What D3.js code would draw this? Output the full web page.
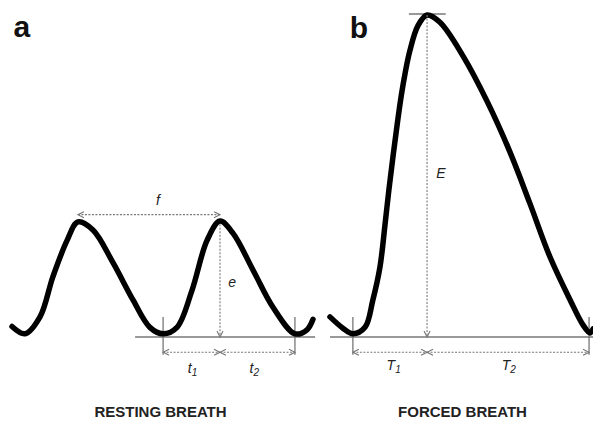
<!DOCTYPE html>
<html>
<head>
<meta charset="utf-8">
<script src="https://cdn.jsdelivr.net/npm/d3@7"></script>
<style>
  html, body { margin: 0; padding: 0; background: #fff; overflow: hidden; }
  svg { display: block; }
  text { font-family: "Liberation Sans", Arial, sans-serif; }
</style>
</head>
<body>
<script>
// resting breath trace (time units, volume units)
var restT = [0, 0.43, 0.93, 1.36, 1.83, 2.19, 2.69, 3.36, 4.02, 4.58, 5.02, 5.48, 5.98, 6.48, 6.91, 7.34, 8.01, 8.67, 9.40, 9.80, 10.0];
var restV = [0.13, 0.04, 0.25, 0.75, 1.20, 1.43, 1.33, 0.92, 0.46, 0.12, 0.04, 0.12, 0.58, 1.20, 1.44, 1.29, 0.83, 0.37, 0.04, 0.09, 0.22];
// forced breath trace
var forcT = [0, 0.49, 0.87, 1.33, 1.63, 1.90, 2.09, 2.24, 2.47, 2.74, 3.04, 3.35, 3.69, 4.18, 5.06, 5.97, 6.84, 7.60, 8.37, 9.13, 9.62, 9.89, 10.0];
var forcV = [0.25, 0.11, 0.04, 0.12, 0.46, 0.87, 1.39, 1.83, 2.43, 3.06, 3.56, 3.87, 4.00, 3.91, 3.49, 2.93, 2.30, 1.66, 0.99, 0.46, 0.15, 0.05, 0.10];

// marker times
var restPeaks = [2.19, 6.91];
var restTroughs = [5.02, 9.40];
var restPeakV = 1.44;
var forcTroughs = [0.87, 9.85];
var forcPeak = 3.69;
var forcPeakV = 4.0;

var panelLetters = ["a", "b"];
var panelTitles = ["RESTING BREATH", "FORCED BREATH"];

var W = 593, H = 421;
var svg = d3.select("body").append("svg").attr("width", W).attr("height", H);

var defs = svg.append("defs");
defs.append("marker")
  .attr("id", "arr")
  .attr("viewBox", "0 0 8 8")
  .attr("refX", 7).attr("refY", 4)
  .attr("markerWidth", 8).attr("markerHeight", 8)
  .attr("markerUnits", "userSpaceOnUse")
  .attr("orient", "auto-start-reverse")
  .append("path")
  .attr("d", "M1,1 L7,4 L1,7")
  .attr("fill", "none")
  .attr("stroke", "#777")
  .attr("stroke-width", 1.1);

var y = d3.scaleLinear().domain([0, 4]).range([337, 15]);
var xa = d3.scaleLinear().domain([0, 10]).range([12, 313]);
var xb = d3.scaleLinear().domain([0, 10]).range([330, 593]);

var gray = "#777";

function trace(x, ts, vs) {
  var pts = ts.map(function(t, i) { return [t, vs[i]]; });
  var line = d3.line()
    .x(function(d) { return x(d[0]); })
    .y(function(d) { return y(d[1]); })
    .curve(d3.curveCatmullRom.alpha(0.5));
  svg.append("path")
    .attr("d", line(pts))
    .attr("fill", "none")
    .attr("stroke", "#000")
    .attr("stroke-width", 5.5)
    .attr("stroke-linecap", "round");
}

function solid(x1, y1, x2, y2) {
  svg.append("line")
    .attr("x1", x1).attr("y1", y1).attr("x2", x2).attr("y2", y2)
    .attr("stroke", gray).attr("stroke-width", 1.3);
}

function dashed(x1, y1, x2, y2, both) {
  var l = svg.append("line")
    .attr("x1", x1).attr("y1", y1).attr("x2", x2).attr("y2", y2)
    .attr("stroke", gray).attr("stroke-width", 1.1)
    .attr("stroke-dasharray", "2,1.5")
    .attr("marker-end", "url(#arr)");
  if (both) l.attr("marker-start", "url(#arr)");
}

function label(x, yy, main, sub, size) {
  var t = svg.append("text")
    .attr("x", x).attr("y", yy)
    .attr("text-anchor", "middle")
    .attr("font-style", "italic")
    .attr("font-size", size || 14)
    .attr("fill", "#222")
    .text(main);
  if (sub) {
    t.append("tspan").attr("font-size", 10).attr("dy", 3).text(sub);
  }
}

// ---- panel a ----
solid(xa(4.09), y(0), xa(10.07), y(0));
restTroughs.forEach(function(t) { solid(xa(t), y(0.25), xa(t), y(-0.22)); });
trace(xa, restT, restV);

// f : peak to peak
dashed(xa(restPeaks[0]), y(1.52), xa(restPeaks[1]), y(1.52), true);
// e : peak height
dashed(xa(restPeaks[1]), y(restPeakV - 0.04), xa(restPeaks[1]), y(0), false);
// t1, t2
dashed(xa(restTroughs[0]), y(-0.19), xa(restPeaks[1]), y(-0.19), true);
dashed(xa(restPeaks[1]), y(-0.19), xa(restTroughs[1]), y(-0.19), true);

label(xa(4.85), 205, "f");
label(xa(7.31), 287, "e");
label(xa(6.0), 373, "t", "1");
label(xa(8.05), 373, "t", "2");

// ---- panel b ----
solid(xb(0), y(0), xb(10), y(0));
forcTroughs.forEach(function(t) { solid(xb(t), y(0.25), xb(t), y(-0.22)); });
solid(xb(3.0), y(forcPeakV) - 1, xb(4.4), y(forcPeakV) - 1);
trace(xb, forcT, forcV);

dashed(xb(forcPeak), y(forcPeakV), xb(forcPeak), y(0), false);
dashed(xb(forcTroughs[0]), y(-0.19), xb(forcPeak), y(-0.19), true);
dashed(xb(forcPeak), y(-0.19), xb(forcTroughs[1]), y(-0.19), true);

label(xb(4.22), 178, "E");
label(xb(2.42), 370, "T", "1");
label(xb(6.8), 370, "T", "2");

// panel letters and titles
var letterX = [xa(0.05), xb(0.75)];
var letterY = [37, 38];
panelLetters.forEach(function(s, i) {
  svg.append("text")
    .attr("x", letterX[i]).attr("y", letterY[i])
    .attr("font-size", 30).attr("font-weight", "bold")
    .attr("fill", "#111")
    .text(s);
});
var titleX = [xa(0) + (xa(10) - xa(0)) / 2 - 2, xb(0) + (xb(10) - xb(0)) / 2 + 1];
panelTitles.forEach(function(s, i) {
  svg.append("text")
    .attr("x", titleX[i]).attr("y", 417)
    .attr("text-anchor", "middle")
    .attr("font-size", 15).attr("font-weight", "bold")
    .attr("fill", "#222")
    .text(s);
});
</script>
</body>
</html>
